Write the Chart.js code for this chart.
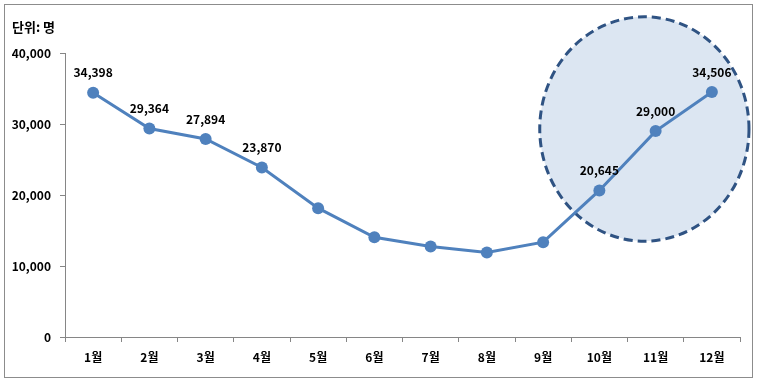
<!DOCTYPE html>
<html>
<head>
<meta charset="utf-8">
<script src="https://cdn.jsdelivr.net/npm/chart.js@4.4.1/dist/chart.umd.min.js"></script>
<style>
  html, body { margin: 0; padding: 0; background: #fff; }
  #wrap { width: 758px; height: 383px; }
</style>
</head>
<body>
<div id="wrap"><canvas id="chart" width="758" height="383"></canvas></div>
<script>
// 데이터
const months = ["1월", "2월", "3월", "4월", "5월", "6월", "7월", "8월", "9월", "10월", "11월", "12월"];
const visitors = [34398, 29364, 27894, 23870, 18150, 14050, 12750, 11900, 13350, 20645, 29000, 34506];
const labeledIdx = [0, 1, 2, 3, 9, 10, 11];
const unitText = "단위: 명";

const FONT = "'Noto Sans CJK KR', 'Noto Sans', sans-serif";
const ctx = document.getElementById("chart");

// 강조 타원 (데이터 좌표 기준)
const highlight = { cx: 9.8, cy: 29300, rx: 1.86, ry: 15800 };

new Chart(ctx, {
  type: "line",
  data: {
    labels: months,
    datasets: [{
      data: visitors,
      borderColor: "#4f81bd",
      backgroundColor: "#4f81bd",
      borderWidth: 3,
      pointRadius: 6,
      pointHoverRadius: 6,
      pointBackgroundColor: "#4f81bd",
      pointBorderWidth: 0,
      tension: 0
    }]
  },
  options: {
    responsive: false,
    animation: false,
    layout: { padding: { top: 53, left: 0, right: 18, bottom: 0 } },
    plugins: {
      legend: { display: false },
      tooltip: { enabled: false }
    },
    scales: {
      x: {
        offset: true,
        grid: { offset: true, drawOnChartArea: false, drawTicks: true, tickLength: 5, color: "#868686" },
        border: { color: "#868686" },
        ticks: { color: "#000", padding: 8, font: { family: FONT, size: 12, weight: "bold" } },
        afterFit: (scale) => { scale.height = 46; }
      },
      y: {
        min: 0,
        max: 40000,
        ticks: {
          stepSize: 10000,
          color: "#000",
          padding: 9,
          font: { family: FONT, size: 12, weight: "bold" },
          callback: (v) => v.toLocaleString("en-US")
        },
        grid: { drawOnChartArea: false, drawTicks: true, tickLength: 5, color: "#868686" },
        border: { color: "#868686" },
        afterFit: (scale) => { scale.width = 65; }
      }
    }
  },
  plugins: [{
    id: "frameAndEllipse",
    beforeDatasetsDraw: (chart) => {
      const { ctx, scales: { x, y } } = chart;
      const cx = x.getPixelForValue(highlight.cx);
      const cy = y.getPixelForValue(highlight.cy);
      const rx = x.getPixelForValue(highlight.cx + highlight.rx) - cx;
      const ry = cy - y.getPixelForValue(highlight.cy + highlight.ry);
      ctx.save();
      ctx.beginPath();
      ctx.ellipse(cx, cy, rx, ry, 0, 0, Math.PI * 2);
      ctx.fillStyle = "#dce6f2";
      ctx.fill();
      ctx.setLineDash([9, 5]);
      ctx.lineWidth = 3;
      ctx.strokeStyle = "#2f5383";
      ctx.stroke();
      ctx.restore();
    },
    afterDraw: (chart) => {
      const { ctx } = chart;
      ctx.save();
      // 바깥 테두리
      ctx.strokeStyle = "#8c8c8c";
      ctx.lineWidth = 1;
      ctx.strokeRect(4.5, 4.5, 748, 373);
      // 단위 표시
      ctx.fillStyle = "#000";
      ctx.font = `bold 13px ${FONT}`;
      ctx.textBaseline = "middle";
      ctx.textAlign = "left";
      ctx.fillText(unitText, 12, 27);
      ctx.restore();
    }
  }, {
    id: "valueLabels",
    afterDatasetsDraw: (chart) => {
      const { ctx } = chart;
      const meta = chart.getDatasetMeta(0);
      ctx.save();
      ctx.fillStyle = "#000";
      ctx.font = `bold 12px ${FONT}`;
      ctx.textAlign = "center";
      ctx.textBaseline = "middle";
      labeledIdx.forEach((i) => {
        const p = meta.data[i];
        ctx.fillText(visitors[i].toLocaleString("en-US"), p.x, p.y - 20);
      });
      ctx.restore();
    }
  }]
});
</script>
</body>
</html>
